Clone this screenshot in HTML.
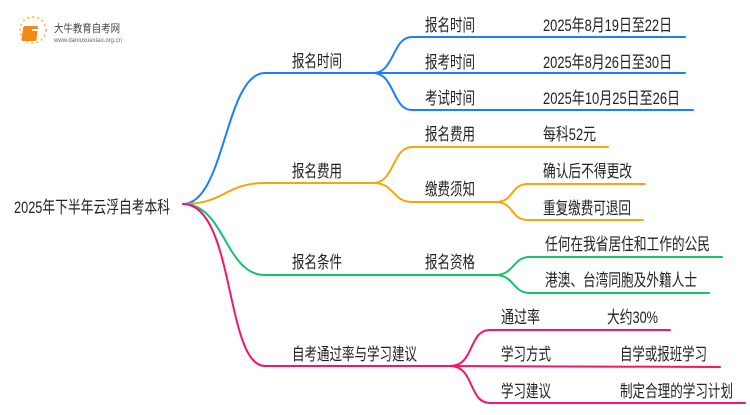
<!DOCTYPE html>
<html><head><meta charset="utf-8"><style>
html,body{margin:0;padding:0;background:#fff;}
svg text{font-family:"Liberation Sans","Noto Sans CJK SC",sans-serif;fill:#222;}
</style></head><body>
<svg width="750" height="410" viewBox="0 0 750 410" xmlns="http://www.w3.org/2000/svg">
<g fill="none" stroke-width="2" stroke-linecap="round">
<g stroke="#1a7fff">
<path d="M183,204 C225,204 225,73 265,73 L373,73"/>
<path d="M373,73 C395,73 392,37 412,37 L685,37"/>
<path d="M373,73 L685,73"/>
<path d="M373,73 C395,73 392,110 412,110 L693,110"/>
</g>
<g stroke="#f5a60a">
<path d="M183,204 C225,204 225,183 265,183 L373,183"/>
<path d="M373,183 C395,183 392,147 412,147 L608,147"/>
<path d="M373,183 C395,183 392,202 412,202 L495,202"/>
<path d="M495,202 C515,202 510,184 528,184 L645,184"/>
<path d="M495,202 C515,202 510,220 528,220 L643,220"/>
</g>
<g stroke="#18c06a">
<path d="M183,204 C225,204 225,275 265,275 L495,275"/>
<path d="M495,275 C515,275 512,257 530,257 L722,257"/>
<path d="M495,275 C515,275 512,293 530,293 L709,293"/>
</g>
<g stroke="#f5156c">
<path d="M183,204 C235,204 225,366 265,366 L450,366"/>
<path d="M450,366 C475,366 468,330 490,330 L670,330"/>
<path d="M450,366 L720,367"/>
<path d="M450,366 C475,366 468,403 490,403 L745,403"/>
</g>
</g>
<g>
<circle cx="33" cy="30" r="13" fill="none" stroke="#f7c34a" stroke-width="2" stroke-dasharray="2 3"/>
<rect x="27" y="26" width="15" height="15" rx="2" fill="#f08a12" transform="skewX(-8)"/>
<rect x="32" y="29" width="9" height="2" fill="#fff"/>
<text x="54" y="32" font-size="11" textLength="66" lengthAdjust="spacingAndGlyphs" style="fill:#444">大牛教育自考网</text>
<text x="54" y="42" font-size="6" textLength="68" lengthAdjust="spacingAndGlyphs" style="fill:#666">www.daniuxuexiao.org.cn</text>
</g>
<g font-size="17">
<text x="14" y="213" textLength="156" lengthAdjust="spacingAndGlyphs">2025年下半年云浮自考本科</text>
<text x="292" y="67" textLength="50" lengthAdjust="spacingAndGlyphs">报名时间</text>
<text x="292" y="177" textLength="50" lengthAdjust="spacingAndGlyphs">报名费用</text>
<text x="292" y="268" textLength="50" lengthAdjust="spacingAndGlyphs">报名条件</text>
<text x="292" y="360" textLength="125" lengthAdjust="spacingAndGlyphs">自考通过率与学习建议</text>
<text x="425" y="31" textLength="50" lengthAdjust="spacingAndGlyphs">报名时间</text>
<text x="425" y="68" textLength="50" lengthAdjust="spacingAndGlyphs">报考时间</text>
<text x="425" y="104" textLength="50" lengthAdjust="spacingAndGlyphs">考试时间</text>
<text x="543" y="31" textLength="129" lengthAdjust="spacingAndGlyphs">2025年8月19日至22日</text>
<text x="543" y="68" textLength="129" lengthAdjust="spacingAndGlyphs">2025年8月26日至30日</text>
<text x="543" y="104" textLength="137" lengthAdjust="spacingAndGlyphs">2025年10月25日至26日</text>
<text x="425" y="140" textLength="50" lengthAdjust="spacingAndGlyphs">报名费用</text>
<text x="543" y="140" textLength="53" lengthAdjust="spacingAndGlyphs">每科52元</text>
<text x="425" y="195" textLength="50" lengthAdjust="spacingAndGlyphs">缴费须知</text>
<text x="543" y="177" textLength="89" lengthAdjust="spacingAndGlyphs">确认后不得更改</text>
<text x="543" y="214" textLength="88" lengthAdjust="spacingAndGlyphs">重复缴费可退回</text>
<text x="425" y="268" textLength="50" lengthAdjust="spacingAndGlyphs">报名资格</text>
<text x="545" y="250" textLength="165" lengthAdjust="spacingAndGlyphs">任何在我省居住和工作的公民</text>
<text x="545" y="286" textLength="152" lengthAdjust="spacingAndGlyphs">港澳、台湾同胞及外籍人士</text>
<text x="501" y="323" textLength="39" lengthAdjust="spacingAndGlyphs">通过率</text>
<text x="607" y="323" textLength="51" lengthAdjust="spacingAndGlyphs">大约30%</text>
<text x="501" y="360" textLength="50" lengthAdjust="spacingAndGlyphs">学习方式</text>
<text x="620" y="360" textLength="87" lengthAdjust="spacingAndGlyphs">自学或报班学习</text>
<text x="501" y="397" textLength="50" lengthAdjust="spacingAndGlyphs">学习建议</text>
<text x="620" y="397" textLength="113" lengthAdjust="spacingAndGlyphs">制定合理的学习计划</text>
</g>
</svg>
</body></html>
